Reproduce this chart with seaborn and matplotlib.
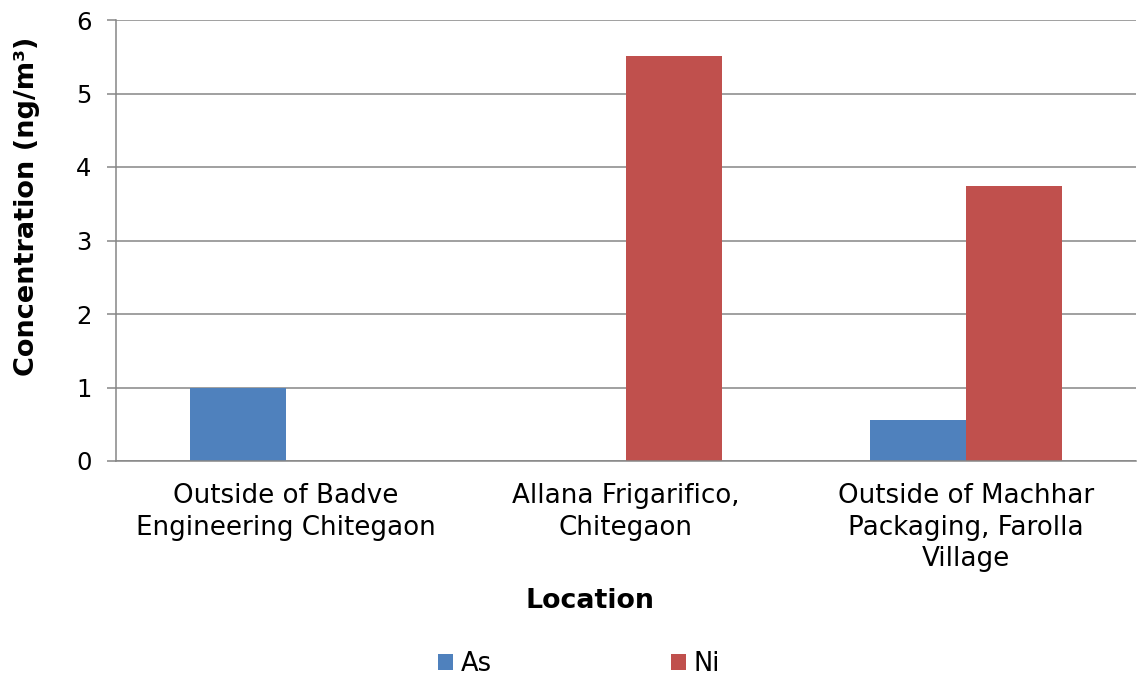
import matplotlib
matplotlib.use("Agg")
import matplotlib.pyplot as plt
import seaborn as sns
import pandas as pd

locations = ["Outside of Badve\nEngineering Chitegaon",
             "Allana Frigarifico,\nChitegaon",
             "Outside of Machhar\nPackaging, Farolla\nVillage"]
series = ["As", "Ni"]
as_values = [1.0, 0.0, 0.56]
ni_values = [0.0, 5.51, 3.74]
y_ticks = [0, 1, 2, 3, 4, 5, 6]

df = pd.DataFrame({
    "Location": locations * 2,
    "Metal": ["As"] * len(locations) + ["Ni"] * len(locations),
    "Value": as_values + ni_values,
})

sns.set_theme(style="white")
plt.rcParams["font.family"] = ["DejaVu Sans"]

grid_c = "#868686"
fig = plt.figure(figsize=(11.37, 6.82), dpi=100)
ax = fig.add_axes([116/1137, 1 - 461/682, (1136-116)/1137, (461-20)/682])

sns.barplot(data=df, x="Location", y="Value", hue="Metal", order=locations,
            hue_order=series, palette={"As": "#4F81BD", "Ni": "#C0504D"},
            width=0.565, linewidth=0, saturation=1, ax=ax, errorbar=None)

ax.set_ylim(0, 6)
ax.set_xlim(-0.5, 2.5)
ax.set_yticks(y_ticks)
ax.set_yticklabels([str(t) for t in y_ticks], fontsize=17.5, color="black")
ax.set_xticks(range(len(locations)))
ax.set_xticklabels(locations, fontsize=18.8, color="black", linespacing=1.28)
ax.yaxis.grid(True, color=grid_c, linewidth=1.1)
ax.set_axisbelow(True)
for s in ["top", "right"]:
    ax.spines[s].set_visible(False)
for s in ["left", "bottom"]:
    ax.spines[s].set_color(grid_c)
    ax.spines[s].set_linewidth(1.1)
ax.tick_params(axis="y", length=6.5, width=1.1, color=grid_c, pad=11, left=True, direction="out")
ax.tick_params(axis="x", length=0, pad=16)

ax.set_ylabel("Concentration (ng/m³)", fontsize=19.5, fontweight="bold", color="black")
ax.yaxis.set_label_coords((40-116)/1020, (461-206)/441)
ax.set_xlabel("Location", fontsize=19.3, fontweight="bold", color="black")
ax.xaxis.set_label_coords((590-116)/1020, (461-588)/441)

handles, labels = ax.get_legend_handles_labels()
if ax.get_legend() is not None:
    ax.get_legend().remove()
fig.legend(handles, labels, loc="center", bbox_to_anchor=(579/1137, 1 - 664/682),
           ncol=2, frameon=False, fontsize=18.5, handlelength=0.58, handleheight=0.58,
           handletextpad=0.3, columnspacing=7.0, labelcolor="black")

fig.savefig("out.png", dpi=100)
